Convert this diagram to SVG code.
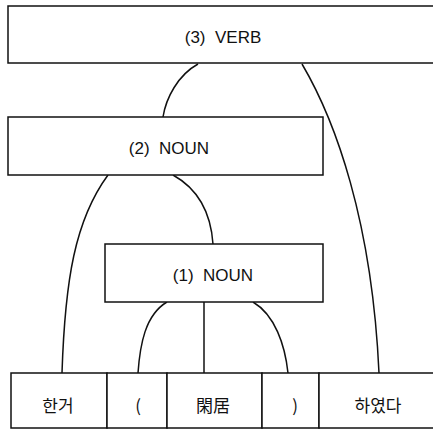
<svg xmlns="http://www.w3.org/2000/svg" width="433" height="431" viewBox="0 0 433 431">
<style>
.box{fill:#fff;stroke:#111;stroke-width:1.5}
.lbl{font-family:"Liberation Sans","Noto Sans CJK KR",sans-serif;font-size:17px;fill:#111;text-anchor:middle;white-space:pre}
.kr{font-family:"Noto Sans CJK KR","Liberation Sans",sans-serif;font-size:17px;fill:#111;text-anchor:middle}
.edge{fill:none;stroke:#111;stroke-width:1.5}
</style>
<rect width="433" height="431" fill="#fff"/>
<g id="connectors">
<path class="edge" d="M198,64 C178,75 166,98 163,117"/>
<path class="edge" d="M302,64 C335,120 372,220 379,373"/>
<path class="edge" d="M108,175 C75,220 65,280 62,373"/>
<path class="edge" d="M173,175 C200,190 211,215 213,244"/>
<path class="edge" d="M167,302 C145,315 140,345 138,373"/>
<path class="edge" d="M204,302 L204,373"/>
<path class="edge" d="M253,302 C275,315 285,345 288,373"/>
</g>
<g id="n3"><rect class="box" x="8" y="6" width="440" height="57"/><text class="lbl" x="223" y="43" xml:space="preserve">(3)  VERB</text></g>
<g id="n2"><rect class="box" x="8" y="117" width="315" height="58"/><text class="lbl" x="169" y="154" xml:space="preserve">(2)  NOUN</text></g>
<g id="n1"><rect class="box" x="105" y="244" width="218" height="58"/><text class="lbl" x="213" y="281" xml:space="preserve">(1)  NOUN</text></g>
<g id="w1"><rect class="box" x="11" y="373" width="96" height="55"/><text class="kr" x="58" y="412">한거</text></g>
<g id="w2"><rect class="box" x="107" y="373" width="60" height="55"/><text class="kr" x="138" y="412">(</text></g>
<g id="w3"><rect class="box" x="167" y="373" width="95" height="55"/><text class="kr" x="213" y="412">閑居</text></g>
<g id="w4"><rect class="box" x="262" y="373" width="57" height="55"/><text class="kr" x="295" y="412">)</text></g>
<g id="w5"><rect class="box" x="319" y="373" width="130" height="55"/><text class="kr" x="378" y="412">하였다</text></g>
</svg>
